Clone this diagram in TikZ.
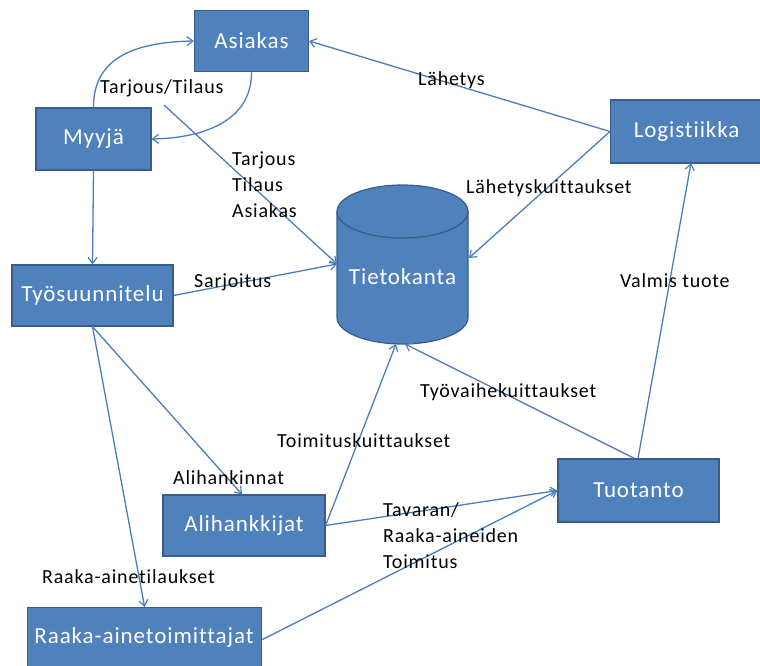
\documentclass[tikz,border=0pt]{standalone}
\usepackage{fontspec}
\setmainfont{Carlito}
\newfontfamily\spfont[LetterSpace=4, Ligatures={NoCommon}]{Carlito}
\usetikzlibrary{arrows.meta}
\definecolor{boxfill}{HTML}{4F81BD}
\definecolor{boxline}{HTML}{385D8A}
\definecolor{conn}{HTML}{4A7EBB}
\tikzset{
  box/.style={draw=boxline, line width=1.2pt, fill=boxfill, text=white, inner sep=0pt,
    font=\spfont\fontsize{23}{26}\selectfont},
  boxtext/.style={text=white, inner sep=0pt, font=\spfont\fontsize{23}{26}\selectfont},
  lbl/.style={text=black, inner sep=0pt, font=\spfont\fontsize{20}{26}\selectfont, align=left},
  conn/.style={draw=conn, line width=1.3pt, -{Straight Barb[length=6pt,width=9pt,line width=1.2pt]}},
}
\begin{document}
\begin{tikzpicture}[x=1pt,y=-1pt]
\useasboundingbox (0,0) rectangle (760,666);
% boxes
\node[box, minimum width=114pt, minimum height=61pt] (asiakas) at (251.5,41) {Asiakas};
\node[box, minimum width=115pt, minimum height=62pt] (myyja) at (93.5,139) {Myyjä};
\node[box, minimum width=161pt, minimum height=61pt] (tyos) at (92.5,295.5) {Työsuunnitelu};
\node[box, minimum width=152pt, minimum height=63pt, anchor=west] (logi) at (610,131.5) {Logistiikka};
\node[box, minimum width=161pt, minimum height=63pt] (tuot) at (638.5,490.5) {Tuotanto};
\node[box, minimum width=162pt, minimum height=61pt] (ali) at (244,525.5) {Alihankkijat};
\node[box, minimum width=234pt, minimum height=64pt, anchor=north west] (raaka) at (27,607) {};
\node[boxtext] (raakat) at (144,637) {Raaka-ainetoimittajat};
% cylinder
\path[draw=boxline, line width=1.2pt, fill=boxfill]
  (337,211.5) -- (337,317.5) arc[start angle=180, end angle=360, x radius=65.5pt, y radius=26.5pt]
  -- (468,211.5) arc[start angle=0, end angle=180, x radius=65.5pt, y radius=26.5pt] -- cycle;
\draw[boxline, line width=1.2pt] (337,211.5) arc[start angle=180, end angle=360, x radius=65.5pt, y radius=26.5pt];
\node[inner sep=0pt, minimum width=131pt, minimum height=159pt] (db) at (402.5,264.5) {};
\node[boxtext] (dbt) at (402.5,277) {Tietokanta};
% connection points
\coordinate (dbL) at (337,264);
\coordinate (dbR) at (469,258);
\coordinate (dbB1) at (396,344);
\coordinate (dbB2) at (405,344);
\coordinate (tstart) at (164,105);
\coordinate (logB) at (691,163);
% connectors
\draw[conn] (myyja.north) .. controls (93,55) and (140,42) .. (asiakas.west);
\draw[conn] (asiakas.south) .. controls (252,120) and (205,138) .. (myyja.east);
\draw[conn] (tstart) -- (dbL);
\draw[conn] (myyja.south) -- (tyos.north);
\draw[conn] (tyos.east) -- (dbL);
\draw[conn] (logi.west) -- (asiakas.east);
\draw[conn] (logi.west) -- (dbR);
\draw[conn] ([xshift=-0.5pt]tuot.north) -- (logB);
\draw[conn] ([xshift=-4pt]tuot.north) -- (dbB2);
\draw[conn] (tyos.south) -- ([xshift=-2pt]ali.north);
\draw[conn] (tyos.south) -- (raaka.north);
\draw[conn] (ali.east) -- (dbB1);
\draw[conn] (ali.east) -- (tuot.west);
\draw[conn] (raaka.east) -- (tuot.west);
% labels
\node[lbl, anchor=west] (l1) at (100,88) {Tarjous/Tilaus};
\node[lbl, anchor=north west] (l2) at (232,152) {Tarjous\\Tilaus\\Asiakas};
\node[lbl, anchor=west] (l3) at (194,282) {Sarjoitus};
\node[lbl, anchor=west] (l4) at (418,80) {Lähetys};
\node[lbl, anchor=west] (l5) at (466,188) {Lähetyskuittaukset};
\node[lbl, anchor=west] (l6) at (620,281) {Valmis tuote};
\node[lbl, anchor=west] (l7) at (420,392) {Työvaihekuittaukset};
\node[lbl, anchor=west] (l8) at (277,441) {Toimituskuittaukset};
\node[lbl, anchor=west] (l9) at (173,478) {Alihankinnat};
\node[lbl, anchor=west] (l10) at (42,577) {Raaka-ainetilaukset};
\node[lbl, anchor=north west] (l11) at (383,502) {Tavaran/\\Raaka-aineiden\\Toimitus};
\end{tikzpicture}
\end{document}
